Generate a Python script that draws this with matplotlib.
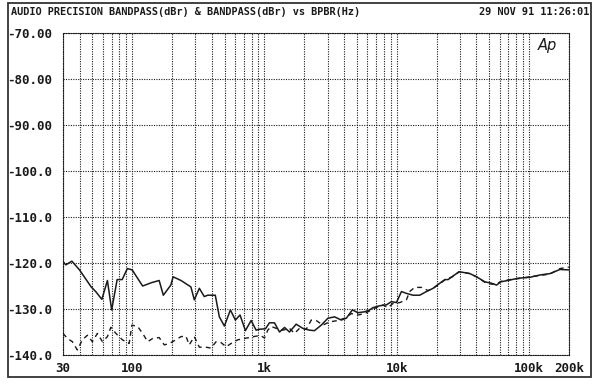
import matplotlib
matplotlib.use("Agg")
import matplotlib.pyplot as plt
from matplotlib.patches import Rectangle
from matplotlib.ticker import FixedLocator, LogLocator, NullFormatter

# solid trace
freq_a = [30, 31.5, 35, 40, 49, 53, 59, 65, 70, 77, 84, 92, 100, 120, 139, 160,
          172, 196, 204, 234, 278, 295, 322, 351, 372, 425, 456, 498, 553, 603,
          654, 718, 793, 865, 917, 1018, 1091, 1191, 1300, 1419, 1546, 1738,
          1950, 2190, 2390, 2690, 3020, 3390, 3810, 4160, 4620, 5090, 5730,
          6240, 6610, 7430, 8350, 9120, 9950, 10860, 11840, 13280, 14930,
          16790, 18840, 21170, 23110, 24480, 26730, 29650, 32740, 35730,
          40160, 46430, 52170, 56900, 61060, 71800, 82970, 101800, 121100,
          144200, 171800, 200000]
level_a = [-119.7, -120.4, -119.6, -121.5, -125.2, -126.2, -127.9, -123.8,
           -130.2, -123.6, -123.6, -121.2, -121.5, -125.0, -124.3, -123.8,
           -127.0, -124.8, -123.0, -123.8, -125.2, -128.0, -125.5, -127.3,
           -127.0, -127.0, -131.7, -133.7, -130.2, -132.4, -131.3, -134.7,
           -132.5, -134.6, -134.4, -134.3, -133.0, -133.0, -135.0, -134.0,
           -135.0, -133.3, -134.2, -134.6, -134.7, -133.5, -132.0, -131.7,
           -132.4, -132.0, -130.2, -130.8, -130.6, -130.2, -129.7, -129.3,
           -129.1, -128.4, -128.6, -126.2, -126.6, -127.0, -127.0, -126.2,
           -125.5, -124.4, -123.6, -123.6, -122.8, -121.9, -122.1, -122.3,
           -123.0, -124.1, -124.4, -124.8, -124.1, -123.7, -123.3, -123.1,
           -122.6, -122.3, -121.4, -121.5]

# dashed trace
freq_b = [30, 32.4, 35.3, 38.5, 42, 45.9, 50, 54.6, 59.6, 65, 69, 75.3, 84.4,
          94.9, 99.5, 110, 120, 131, 143, 160, 175, 191, 214, 234, 255, 270,
          295, 322, 362, 395, 431, 470, 513, 559, 628, 705, 769, 865, 940,
          1000, 1060, 1124, 1227, 1377, 1546, 1688, 1842, 2070, 2259, 2464,
          2766, 3108, 3592, 4036, 4538, 5090, 5730, 6240, 7220, 7870, 8590,
          9370, 10540, 11840, 12540, 13680, 15380, 17260, 18840, 21170, 23110,
          26730, 29650, 35730, 40160, 46430, 52170, 56900, 61060, 71800,
          82970, 101800, 121100, 144200, 171800, 200000]
level_b = [-135.3, -136.4, -137.1, -138.9, -136.7, -135.7, -137.1, -135.3,
           -137.1, -136.0, -134.0, -135.3, -136.7, -137.5, -133.5, -133.8,
           -135.3, -137.1, -136.4, -136.2, -137.8, -137.5, -136.7, -136.0,
           -135.9, -137.8, -136.0, -138.3, -138.3, -138.5, -137.1, -137.3,
           -138.2, -137.5, -136.7, -136.4, -136.2, -135.9, -135.8, -136.3,
           -134.6, -133.8, -134.2, -134.6, -134.2, -135.3, -134.2, -134.4,
           -132.4, -132.5, -133.5, -132.8, -132.5, -132.0, -131.0, -131.3,
           -131.0, -130.4, -129.5, -129.1, -129.7, -128.8, -128.6, -128.0,
           -126.2, -125.3, -125.3, -126.0, -125.5, -124.5, -123.7, -122.9,
           -121.9, -122.3, -123.0, -124.2, -124.6, -124.6, -124.0, -123.6,
           -123.4, -123.0, -122.7, -122.4, -121.2, -120.9]

x_ticks = [30, 100, 1000, 10000, 100000, 200000]
x_labels = ["30", "100", "1k", "10k", "100k", "200k"]
y_ticks = [-70, -80, -90, -100, -110, -120, -130, -140]
y_labels = ["-70.00", "-80.00", "-90.00", "-100.0", "-110.0", "-120.0",
            "-130.0", "-140.0"]

mono = "DejaVu Sans Mono"
ink = "#1a1a1a"
dots = (0, (1, 1.2))

fig = plt.figure(figsize=(6, 3.88), dpi=100)
ax = fig.add_axes([0.105, 0.085, 0.843, 0.83])

ax.plot(freq_b, level_b, color=ink, lw=1.0, linestyle=(0, (3.5, 3)))
ax.plot(freq_a, level_a, color=ink, lw=1.1)

# x axis
ax.set_xscale("log")
ax.set_xlim(30, 200000)
ax.xaxis.set_major_locator(FixedLocator(x_ticks))
ax.set_xticklabels(x_labels)
ax.xaxis.set_minor_locator(LogLocator(base=10, subs=range(2, 10), numticks=20))
ax.xaxis.set_minor_formatter(NullFormatter())

# y axis
ax.set_ylim(-140, -70)
ax.set_yticks(y_ticks)
ax.set_yticklabels(y_labels)

ax.tick_params(which="both", length=0)
ax.tick_params(axis="x", pad=5)
ax.tick_params(axis="y", pad=8)
for lab in ax.get_xticklabels() + ax.get_yticklabels():
    lab.set_fontfamily(mono)
    lab.set_fontweight("bold")
    lab.set_fontsize(9)
    lab.set_color(ink)

ax.grid(True, which="both", color=ink, lw=0.8, linestyle=dots)
for sp in ax.spines.values():
    sp.set_linestyle(dots)
    sp.set_linewidth(0.8)
    sp.set_color(ink)

# header and frame
fig.text(0.018, 0.968, "AUDIO PRECISION BANDPASS(dBr) & BANDPASS(dBr) vs BPBR(Hz)",
         family=mono, weight="bold", fontsize=7.4, color=ink, va="center", ha="left")
fig.text(0.982, 0.968, "29 NOV 91 11:26:01",
         family=mono, weight="bold", fontsize=7.4, color=ink, va="center", ha="right")
ax.text(0.958, 0.985, "Ap", transform=ax.transAxes, style="italic",
        fontsize=10.5, color=ink, ha="center", va="top")
fig.patches.append(Rectangle((0.0135, 0.028), 0.972, 0.963, transform=fig.transFigure,
                             fill=False, lw=1.3, edgecolor="#333333"))

fig.savefig("out.png", dpi=100)
